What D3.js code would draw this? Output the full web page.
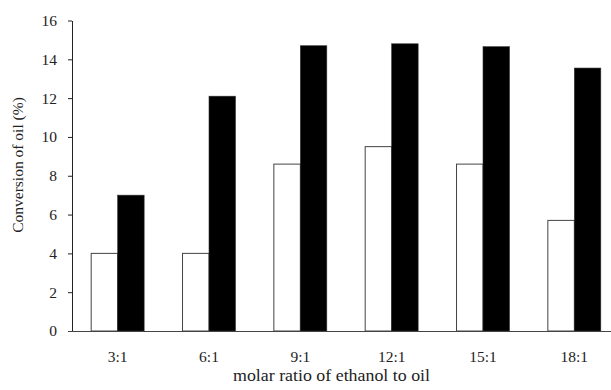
<!DOCTYPE html>
<html><head><meta charset="utf-8">
<script src="https://cdn.jsdelivr.net/npm/d3@7"></script>
<style>body{margin:0;background:#fff}svg{display:block}</style>
</head><body>
<script>
const categories = ["3:1","6:1","9:1","12:1","15:1","18:1"];
const seriesWhite = [4.0, 4.0, 8.6, 9.5, 8.6, 5.7];
const seriesBlack = [7.0, 12.1, 14.7, 14.8, 14.65, 13.55];
const yTicks = [0,2,4,6,8,10,12,14,16];

(function(){
const W = 611, H = 390;
const svg = d3.select("body").append("svg").attr("width", W).attr("height", H);
const mLeft = 72, mRight = 620, mTop = 20.5, mBottom = 331;
const font = "'Liberation Serif', 'Times New Roman', serif";

const x = d3.scaleBand().domain(categories).range([mLeft, mRight]).paddingInner(0.42).paddingOuter(0.21);
const y = d3.scaleLinear().domain([0,16]).range([mBottom, mTop]);
const bw = x.bandwidth()/2;

const g = svg.append("g");
g.selectAll("rect.w").data(categories).join("rect").attr("class","w")
  .attr("x", (d)=>x(d)).attr("y", (d,i)=>y(seriesWhite[i]))
  .attr("width", bw).attr("height", (d,i)=>y(0)-y(seriesWhite[i]))
  .attr("fill","#fff").attr("stroke","#444").attr("stroke-width",1);
g.selectAll("rect.b").data(categories).join("rect").attr("class","b")
  .attr("x", (d)=>x(d)+bw).attr("y", (d,i)=>y(seriesBlack[i]))
  .attr("width", bw).attr("height", (d,i)=>y(0)-y(seriesBlack[i]))
  .attr("fill","#000").attr("stroke","#333").attr("stroke-width",0.6);

const ya = svg.append("g").attr("transform",`translate(${mLeft},0)`)
  .call(d3.axisLeft(y).tickValues(yTicks).tickSize(4).tickPadding(11).tickSizeOuter(0));
ya.select(".domain").attr("stroke","#222");
ya.selectAll(".tick line").attr("stroke","#222");
ya.selectAll("text").attr("font-family",font).attr("font-size",15.5).attr("fill","#222");

const xa = svg.append("g").attr("transform",`translate(0,${mBottom})`)
  .call(d3.axisBottom(x).tickSize(0).tickPadding(20));
xa.select(".domain").attr("stroke","#444").attr("d",`M${mLeft-4},0.5H${W}`);
xa.selectAll("text").attr("font-family",font).attr("font-size",15.5).attr("fill","#222");

svg.append("text").attr("x", 331.5).attr("y", 381).attr("text-anchor","middle")
  .attr("font-family",font).attr("font-size",16.5).attr("fill","#222")
  .attr("textLength",197).attr("lengthAdjust","spacingAndGlyphs")
  .text("molar ratio of ethanol to oil");
svg.append("text").attr("transform","translate(23,165) rotate(-90)").attr("text-anchor","middle")
  .attr("font-family",font).attr("font-size",15.5).attr("fill","#222")
  .text("Conversion of oil (%)");
})();
</script>
</body></html>
